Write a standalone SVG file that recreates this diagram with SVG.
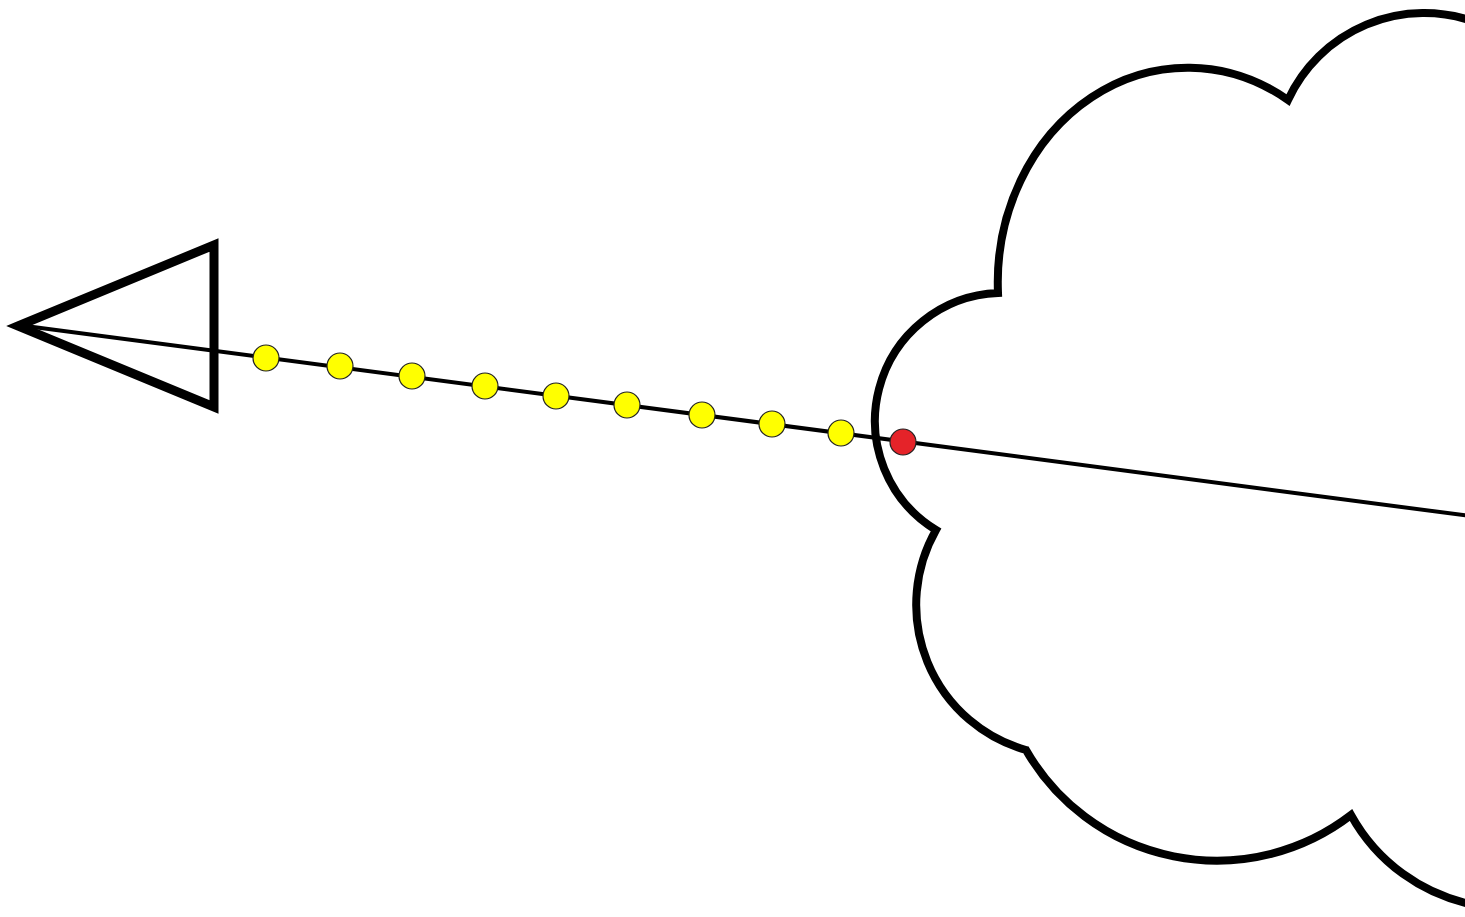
<svg xmlns="http://www.w3.org/2000/svg" width="1465" height="917" viewBox="0 0 1465 917">
<style>
.outline{fill:#fff;stroke:#000;stroke-width:8;stroke-linejoin:miter}
.conn{stroke:#000;stroke-width:4;fill:none}
.arrow{fill:none;stroke:#000;stroke-width:9;stroke-linejoin:miter}
.dot{fill:#FFFF00;stroke:#222;stroke-width:1.2}
.dot-end{fill:#E52329;stroke:#222;stroke-width:1.2}
</style>
<rect width="1465" height="917" fill="#fff"/>
<g id="cloud">
<path class="outline" d="M1475,22 A150,150 0 0 0 1288,100 A190,215 0 0 0 998,293 A128,128 0 0 0 936,530 A151,151 0 0 0 1026,750 A220,220 0 0 0 1351,815 A180,180 0 0 0 1475,905"/>
</g>
<g id="connectors">
<line class="conn" x1="18" y1="325" x2="1470" y2="516"/>
<polygon id="arrowhead" class="arrow" points="18,326 214,245 214,407"/>
</g>
<g id="points">
<circle class="dot" cx="266" cy="358" r="13"/>
<circle class="dot" cx="340" cy="366" r="13"/>
<circle class="dot" cx="412" cy="376" r="13"/>
<circle class="dot" cx="485" cy="386" r="13"/>
<circle class="dot" cx="556" cy="396" r="13"/>
<circle class="dot" cx="627" cy="405" r="13"/>
<circle class="dot" cx="702" cy="415" r="13"/>
<circle class="dot" cx="772" cy="424" r="13"/>
<circle class="dot" cx="841" cy="433" r="13"/>
<circle class="dot-end" cx="903" cy="442" r="13"/>
</g>
</svg>
